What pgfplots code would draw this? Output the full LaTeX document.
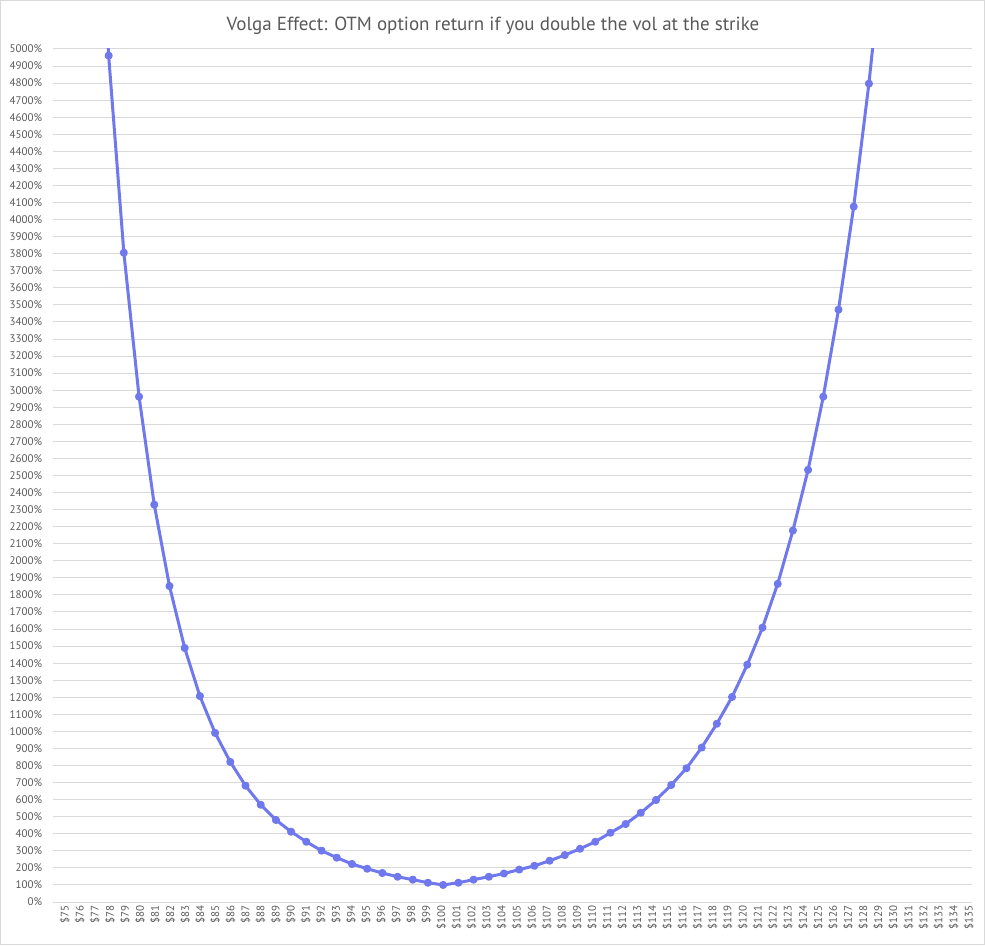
\documentclass[border=0pt]{standalone}
\usepackage{fontspec}
\setmainfont{PT Sans}
\usepackage{pgfplots}
\pgfplotsset{compat=1.18}
\definecolor{volga}{RGB}{112,120,238}
\definecolor{gridgray}{RGB}{217,217,217}
\definecolor{labelgray}{RGB}{89,89,89}

\begin{document}
\begin{tikzpicture}[x=1pt,y=1pt]
  \useasboundingbox (0,0) rectangle (985,945);
  \draw[gridgray, line width=1pt] (0.5,0.5) rectangle (984.5,944.5);
  \node[anchor=base, text=labelgray, font=\fontsize{19}{22}\selectfont]
    at (493,914.3) {Volga Effect: OTM option return if you double the vol at the strike};

  % grid and tick labels
  \begin{axis}[
      at={(52.7pt,43pt)}, anchor=south west, scale only axis,
      width=919pt, height=853pt,
      xmin=74.5, xmax=135.5, ymin=0, ymax=5000,
      xtick={75,...,135}, ytick={0,100,...,5000},
      ymajorgrids, grid style={gridgray, line width=1pt},
      axis line style={draw=none}, major tick length=0pt,
      tick label style={text=labelgray, font=\fontsize{11}{12}\selectfont},
      xticklabel={\$\pgfmathprintnumber[fixed,precision=0,1000 sep={},assume math mode=true]{\tick}},
      yticklabel={\pgfmathprintnumber[fixed,precision=0,1000 sep={},assume math mode=true]{\tick}\%},
      xticklabel style={rotate=90, anchor=east, yshift=-4.5pt},
      yticklabel style={anchor=east, xshift=-7pt},
    ]
  \end{axis}

  % the series
  \begin{axis}[
      at={(52.7pt,43pt)}, anchor=south west, scale only axis,
      width=919pt, height=853pt,
      xmin=74.32, xmax=134.76, ymin=0, ymax=5000,
      hide axis, clip marker paths=true,
    ]
    \addplot[volga, line width=3pt, line join=round, mark=*, mark size=2.5pt]
      coordinates {
        (77,6500) (78,4961) (79,3806) (80,2962) (81,2329) (82,1852)
        (83,1489) (84,1207) (85,991) (86,821) (87,682) (88,570)
        (89,481) (90,412) (91,353) (92,301) (93,260) (94,223)
        (95,195) (96,170) (97,148) (98,131) (99,113) (100,100)
        (101,113) (102,131) (103,148) (104,167) (105,190) (106,212)
        (107,242) (108,275) (109,312) (110,353) (111,406) (112,457)
        (113,523) (114,598) (115,686) (116,784) (117,905) (118,1045)
        (119,1202) (120,1391) (121,1608) (122,1865) (123,2177) (124,2533)
        (125,2962) (126,3472) (127,4076) (128,4797) (129,5650)
      };
  \end{axis}
\end{tikzpicture}
\end{document}
